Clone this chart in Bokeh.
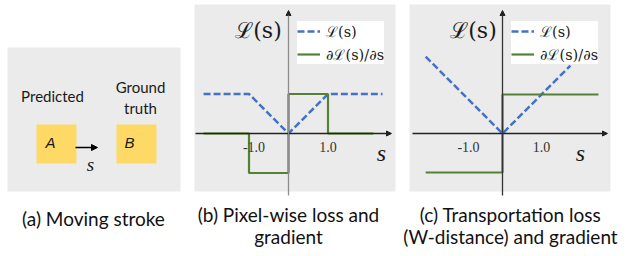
from bokeh.plotting import figure
from bokeh.models import Range1d, Arrow, NormalHead, Legend, LegendItem
from bokeh.core.properties import value
from bokeh.embed import file_html
from bokeh.resources import INLINE

# ---------------- data ----------------
# (b) pixel-wise loss and gradient
pix_s = [-2.15, -1.0, 0.0, 1.0, 2.38]
pix_loss = [1.0, 1.0, 0.0, 1.0, 1.0]
pix_grad_s = [-2.15, -1.0, -1.0, 0.0, 0.0, 1.0, 1.0, 2.15]
pix_grad = [0.0, 0.0, -1.0, -1.0, 1.0, 1.0, 0.0, 0.0]
# (c) transportation loss (W-distance) and gradient
tr_s = [-1.97, 0.0, 1.74]
tr_loss = [1.97, 0.0, 1.74]
tr_grad_s = [-1.97, 0.0, 0.0, 2.46]
tr_grad = [-1.0, -1.0, 1.0, 1.0]
tick_vals = [-1.0, 1.0]
tick_labels = ["-1.0", "1.0"]
captions = ["(a) Moving stroke", "(b) Pixel-wise loss and\ngradient",
            "(c) Transportation loss\n(W-distance) and gradient"]

BLUE = "#4472C4"
GREEN = "#548235"
GREY_BG = "#EBEBEB"
YELLOW = "#FFD966"
DARK = "#1a1a1a"
SERIF = value("Liberation Serif")
SANS = value("Lato")
MATH = value("DejaVu Serif")

W, H = 635, 256
p = figure(width=W, height=H, x_range=Range1d(0, W), y_range=Range1d(H, 0),
           output_backend="svg", toolbar_location=None, min_border=0)
p.axis.visible = False
p.grid.visible = False
p.outline_line_color = None
p.background_fill_color = "white"
p.border_fill_color = "white"

# panel frames (pixel layout)
p.quad(left=[7, 194, 409], right=[180, 395, 610], top=[47, 4, 4], bottom=[191, 191, 191],
       fill_color=GREY_BG, line_color=None)

# ---- panel (a) ----
p.quad(left=[36, 116], right=[76, 156], top=[124, 124], bottom=[163, 163],
       fill_color=YELLOW, line_color=None)
p.text(x=[50, 129], y=[142, 142], text=["A", "B"], text_font=value("Liberation Sans"),
       text_font_style="italic", text_font_size="15px", text_align="center",
       text_baseline="middle", text_color=DARK)
p.text(x=[52, 140, 140], y=[95, 86, 107], text=["Predicted", "Ground", "truth"],
       text_font=SANS, text_font_size="15px", text_align="center",
       text_baseline="middle", text_color=DARK)
p.add_layout(Arrow(x_start=75, y_start=147, x_end=97, y_end=147, line_width=1.5,
                   line_color="black",
                   end=NormalHead(size=6, fill_color="black", line_color="black")))
p.text(x=[90], y=[164], text=["s"], text_font=SERIF, text_font_style="italic",
       text_font_size="19px", text_align="center", text_baseline="middle", text_color=DARK)

# ---- captions ----
cap_x = [93, 288, 510]
cap_y = [218, 214, 214]
for cx, cy, cap in zip(cap_x, cap_y, captions):
    lines = cap.split("\n")
    for i, ln in enumerate(lines):
        p.text(x=[cx], y=[cy + 22 * i], text=[ln], text_font=SANS, text_font_size="19px",
               text_align="center", text_baseline="middle", text_color="#111111")

# ---- panels (b) and (c): own data scales ----
panels = {
    "b": dict(ox=288, oy=133, u=39.5, ax_l=195, ax_r=391, v_col="#8c8c8c",
              ylab=(258, 30), slab=(381, 152), leg=(297, 64),
              s=pix_s, L=pix_loss, gs=pix_grad_s, g=pix_grad),
    "c": dict(ox=502, oy=133, u=39.0, ax_l=412, ax_r=607, v_col="#333333",
              ylab=(473, 30), slab=(580, 152), leg=(511, 64),
              s=tr_s, L=tr_loss, gs=tr_grad_s, g=tr_grad),
}
for name, d in panels.items():
    u = d["u"]
    p.extra_x_ranges["x" + name] = Range1d((0 - d["ox"]) / u, (W - d["ox"]) / u)
    p.extra_y_ranges["y" + name] = Range1d((d["oy"] - H) / u, (d["oy"] - 0) / u)
    # axes (pixel layout)
    p.add_layout(Arrow(x_start=d["ax_l"], y_start=d["oy"], x_end=d["ax_r"], y_end=d["oy"],
                       line_width=1.3, line_color="#222222",
                       end=NormalHead(size=5, fill_color="#222222", line_color="#222222")))
    p.add_layout(Arrow(x_start=d["ox"], y_start=195, x_end=d["ox"], y_end=10,
                       line_width=1.3, line_color=d["v_col"],
                       end=NormalHead(size=5, fill_color="#222222", line_color="#222222")))
    kw = dict(x_range_name="x" + name, y_range_name="y" + name)
    r_loss = p.line(d["s"], d["L"], line_color=BLUE, line_width=2.5, line_dash="7 3", **kw)
    r_grad = p.line(d["gs"], d["g"], line_color=GREEN, line_width=2.2, **kw)
    # tick labels
    p.text(x=tick_vals, y=[0, 0], text=tick_labels, x_offset=[5, 0], y_offset=13,
           text_font=SERIF, text_font_size="14px", text_align="center",
           text_baseline="middle", text_color="#333333", **kw)
    # axis labels
    p.text(x=[d["ylab"][0]], y=[d["ylab"][1]], text=["\u2112(s)"], text_font=MATH,
           text_font_size="22px", text_align="center", text_baseline="middle",
           text_color=DARK)
    p.text(x=[d["slab"][0]], y=[d["slab"][1]], text=["s"], text_font=SERIF,
           text_font_style="italic", text_font_size="24px", text_align="center",
           text_baseline="middle", text_color=DARK)
    leg = Legend(items=[LegendItem(label="\u2112(s)", renderers=[r_loss]),
                        LegendItem(label="\u2202\u2112(s)/\u2202s", renderers=[r_grad])],
                 location=(d["leg"][0], H - d["leg"][1]),
                 padding=7, spacing=3, margin=0, glyph_width=23, glyph_height=16,
                 label_height=16, label_standoff=6, border_line_color=None,
                 background_fill_color="white", background_fill_alpha=1.0,
                 label_text_font="DejaVu Serif", label_text_font_size="14.5px",
                 label_text_color=DARK)
    p.add_layout(leg)

open("out.html", "w").write(file_html(p, INLINE))
